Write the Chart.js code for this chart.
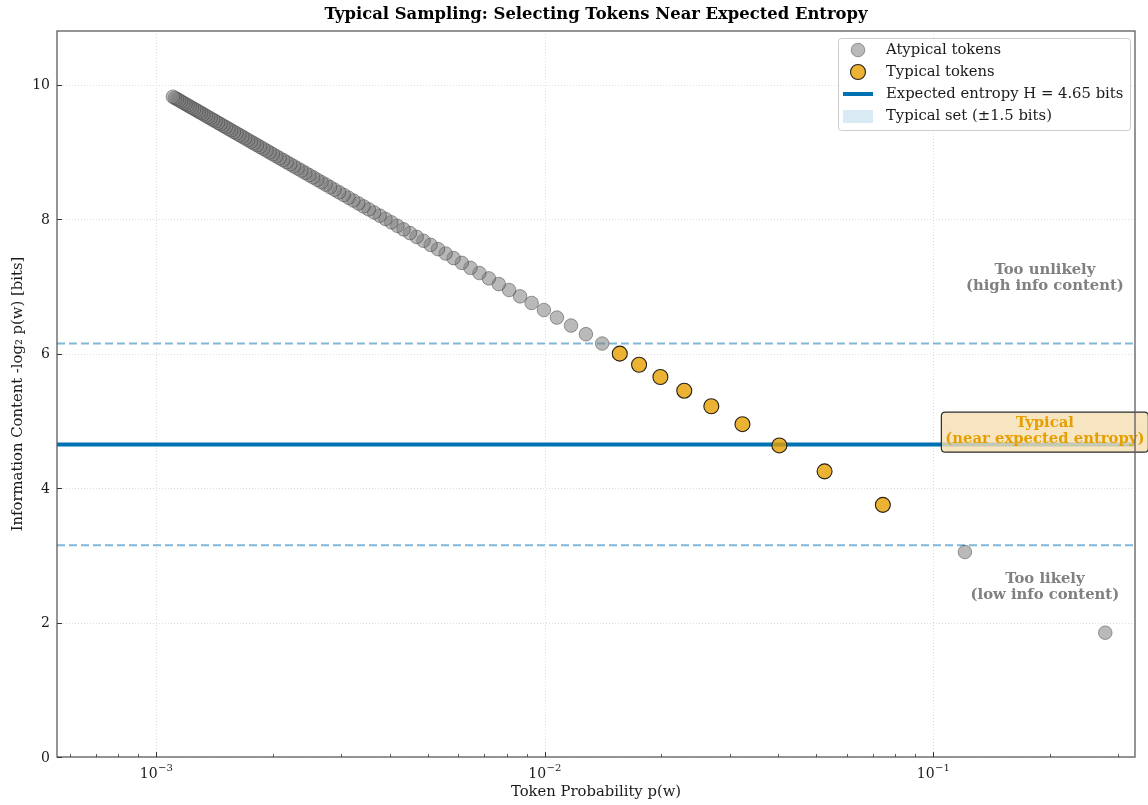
<!DOCTYPE html>
<html>
<head>
<meta charset="utf-8">
<script src="https://cdn.jsdelivr.net/npm/chart.js@4.4.0/dist/chart.umd.min.js"></script>
<style>
  html, body { margin: 0; padding: 0; background: #ffffff; }
  canvas { display: block; }
</style>
</head>
<body>
<canvas id="chart" width="1148" height="805"></canvas>
<script>
// Token probabilities (rank 1..100) and their information content in bits
const tokenProb = [
  0.2775, 0.1208, 0.07427, 0.05258, 0.04022, 0.03232, 0.02687, 0.02289, 0.01987, 0.01751,
  0.01562, 0.01407, 0.01278, 0.01170, 0.01076, 0.009963, 0.009263, 0.008650, 0.008106, 0.007624,
  0.007188, 0.006798, 0.006446, 0.006125, 0.005832, 0.005564, 0.005318, 0.005090, 0.004880, 0.004686,
  0.004504, 0.004337, 0.004179, 0.004032, 0.003895, 0.003766, 0.003643, 0.003528, 0.003420, 0.003318,
  0.003221, 0.003129, 0.003042, 0.002959, 0.002881, 0.002806, 0.002734, 0.002666, 0.002601, 0.002538,
  0.002479, 0.002422, 0.002367, 0.002314, 0.002264, 0.002216, 0.002169, 0.002124, 0.002081, 0.002040,
  0.001999, 0.001961, 0.001924, 0.001888, 0.001853, 0.001819, 0.001787, 0.001755, 0.001725, 0.001695,
  0.001667, 0.001639, 0.001612, 0.001586, 0.001560, 0.001536, 0.001512, 0.001489, 0.001466, 0.001444,
  0.001423, 0.001402, 0.001382, 0.001362, 0.001343, 0.001324, 0.001306, 0.001288, 0.001271, 0.001254,
  0.001237, 0.001221, 0.001205, 0.001190, 0.001175, 0.001160, 0.001146, 0.001132, 0.001118, 0.001105
];
const infoContent = [
  1.849, 3.049, 3.751, 4.249, 4.635, 4.951, 5.218, 5.449, 5.653, 5.835,
  6.000, 6.151, 6.290, 6.418, 6.537, 6.649, 6.754, 6.853, 6.947, 7.035,
  7.120, 7.200, 7.277, 7.351, 7.422, 7.490, 7.555, 7.618, 7.679, 7.737,
  7.794, 7.849, 7.902, 7.954, 8.004, 8.053, 8.100, 8.147, 8.191, 8.235,
  8.278, 8.320, 8.361, 8.400, 8.439, 8.477, 8.515, 8.551, 8.587, 8.622,
  8.656, 8.690, 8.723, 8.755, 8.787, 8.818, 8.849, 8.879, 8.908, 8.937,
  8.966, 8.994, 9.022, 9.049, 9.076, 9.102, 9.128, 9.154, 9.179, 9.204,
  9.229, 9.253, 9.277, 9.300, 9.324, 9.347, 9.369, 9.391, 9.414, 9.435,
  9.457, 9.478, 9.499, 9.520, 9.540, 9.561, 9.581, 9.600, 9.620, 9.639,
  9.658, 9.677, 9.696, 9.715, 9.733, 9.751, 9.769, 9.787, 9.804, 9.822
];

const ENTROPY = 4.65;      // expected entropy H in bits
const BAND = 1.5;          // half-width of the typical set in bits

const xLimits = [5.56e-4, 0.331];
const yLimits = [0, 10.8];
const yTicks = [0, 2, 4, 6, 8, 10];
const xDecades = [1e-3, 1e-2, 1e-1];
const xDecadeExponents = ['\u22123', '\u22122', '\u22121'];

const SERIF = '"DejaVu Serif", "Liberation Serif", serif';
const TEXT_PX = '14.8px ';

// Split tokens into the typical set and the rest
const typicalPts = [];
const atypicalPts = [];
tokenProb.forEach((p, i) => {
  const pt = { x: p, y: infoContent[i] };
  if (Math.abs(infoContent[i] - ENTROPY) < BAND) typicalPts.push(pt);
  else atypicalPts.push(pt);
});

const hLine = v => [{ x: xLimits[0], y: v }, { x: xLimits[1], y: v }];

const COLORS = {
  typicalFill: 'rgba(230,159,0,0.8)',
  typicalEdge: 'rgba(0,0,0,0.85)',
  atypFill: 'rgba(128,128,128,0.55)',
  atypEdge: 'rgba(45,45,45,0.55)',
  entropy: '#0072B2',
  bound: 'rgba(0,114,178,0.5)',
  bandPatch: 'rgba(0,114,178,0.15)'
};

function strokeLine(ctx, x1, y1, x2, y2) {
  ctx.beginPath(); ctx.moveTo(x1, y1); ctx.lineTo(x2, y2); ctx.stroke();
}

function roundRect(ctx, x, y, w, h, r) {
  ctx.beginPath();
  ctx.moveTo(x + r, y);
  ctx.lineTo(x + w - r, y); ctx.quadraticCurveTo(x + w, y, x + w, y + r);
  ctx.lineTo(x + w, y + h - r); ctx.quadraticCurveTo(x + w, y + h, x + w - r, y + h);
  ctx.lineTo(x + r, y + h); ctx.quadraticCurveTo(x, y + h, x, y + h - r);
  ctx.lineTo(x, y + r); ctx.quadraticCurveTo(x, y, x + r, y);
  ctx.closePath();
}

const decorations = {
  id: 'decorations',
  beforeDatasetsDraw(chart) {
    const { ctx, chartArea: a, scales: { x, y } } = chart;
    ctx.save();
    ctx.strokeStyle = '#d4d4d4';
    ctx.lineWidth = 0.8;
    ctx.setLineDash([1, 2]);
    yTicks.forEach(v => {
      const py = Math.round(y.getPixelForValue(v)) + 0.5;
      strokeLine(ctx, a.left, py, a.right, py);
    });
    xDecades.forEach(v => {
      const px = Math.round(x.getPixelForValue(v)) + 0.5;
      strokeLine(ctx, px, a.top, px, a.bottom);
    });
    ctx.restore();
  },
  afterDatasetsDraw(chart) {
    const { ctx, scales: { x, y } } = chart;
    ctx.save();
    // region annotations
    ctx.textAlign = 'center';
    ctx.textBaseline = 'middle';
    ctx.font = 'bold ' + TEXT_PX + SERIF;
    ctx.fillStyle = '#808080';
    const ax = x.getPixelForValue(0.194);
    let cy = y.getPixelForValue(7.13);
    ctx.fillText('Too unlikely', ax, cy - 8);
    ctx.fillText('(high info content)', ax, cy + 8);
    cy = y.getPixelForValue(2.53);
    ctx.fillText('Too likely', ax, cy - 8);
    ctx.fillText('(low info content)', ax, cy + 8);

    // typical label in a box
    cy = y.getPixelForValue(4.84);
    roundRect(ctx, ax - 103.5, cy - 19.5, 207, 40, 4);
    ctx.fillStyle = 'rgba(245,222,179,0.8)';
    ctx.fill();
    ctx.strokeStyle = '#2b2b2b';
    ctx.lineWidth = 1.2;
    ctx.stroke();
    ctx.fillStyle = '#E69F00';
    ctx.fillText('Typical', ax, cy - 8);
    ctx.fillText('(near expected entropy)', ax, cy + 8);
    ctx.restore();
  },
  afterDraw(chart) {
    const { ctx, chartArea: a, scales: { x, y } } = chart;
    ctx.save();

    // frame
    ctx.strokeStyle = '#5c5c5c';
    ctx.lineWidth = 1.3;
    ctx.strokeRect(a.left, a.top, a.right - a.left, a.bottom - a.top);

    // inward ticks
    ctx.strokeStyle = '#333';
    ctx.lineWidth = 1;
    yTicks.forEach(v => {
      const py = Math.round(y.getPixelForValue(v)) + 0.5;
      strokeLine(ctx, a.left, py, a.left + 5, py);
    });
    xDecades.forEach(v => {
      const px = Math.round(x.getPixelForValue(v)) + 0.5;
      strokeLine(ctx, px, a.bottom, px, a.bottom - 5);
    });
    ctx.lineWidth = 0.8;
    [1e-4, 1e-3, 1e-2, 1e-1].forEach(d => {
      for (let m = 2; m <= 9; m++) {
        const v = d * m;
        if (v < xLimits[0] || v > xLimits[1]) continue;
        const px = Math.round(x.getPixelForValue(v)) + 0.5;
        strokeLine(ctx, px, a.bottom, px, a.bottom - 3);
      }
    });

    // tick labels
    ctx.fillStyle = '#1a1a1a';
    ctx.font = '14px ' + SERIF;
    ctx.textAlign = 'right';
    ctx.textBaseline = 'middle';
    yTicks.forEach(v => ctx.fillText(String(v), a.left - 7, y.getPixelForValue(v) + 1));

    ctx.textBaseline = 'alphabetic';
    xDecades.forEach((v, i) => {
      const px = x.getPixelForValue(v);
      ctx.font = '14px ' + SERIF;
      const wBase = ctx.measureText('10').width;
      ctx.font = '10px ' + SERIF;
      const wExp = ctx.measureText(xDecadeExponents[i]).width;
      const left = px - (wBase + wExp) / 2;
      ctx.textAlign = 'left';
      ctx.font = '14px ' + SERIF;
      ctx.fillText('10', left, a.bottom + 21);
      ctx.font = '10px ' + SERIF;
      ctx.fillText(xDecadeExponents[i], left + wBase + 0.5, a.bottom + 14);
    });

    // axis titles
    ctx.font = TEXT_PX + SERIF;
    ctx.textAlign = 'center';
    ctx.textBaseline = 'middle';
    ctx.fillText('Token Probability p(w)', (a.left + a.right) / 2, a.bottom + 35);
    ctx.save();
    ctx.translate(18, (a.top + a.bottom) / 2);
    ctx.rotate(-Math.PI / 2);
    ctx.fillText('Information Content -log\u2082 p(w) [bits]', 0, 0);
    ctx.restore();

    // title
    ctx.font = 'bold 16.4px ' + SERIF;
    ctx.fillStyle = '#000';
    ctx.fillText('Typical Sampling: Selecting Tokens Near Expected Entropy', (a.left + a.right) / 2, 15);

    // legend
    const lx = 838, ly = 38, lw = 292, lh = 92;
    roundRect(ctx, lx + 0.5, ly + 0.5, lw, lh, 3);
    ctx.fillStyle = 'rgba(255,255,255,0.85)';
    ctx.fill();
    ctx.strokeStyle = '#cccccc';
    ctx.lineWidth = 1;
    ctx.stroke();

    const mx = 858, tx = 886;
    const rows = [50, 72, 94, 116];
    ctx.beginPath(); ctx.arc(mx, rows[0], 6.8, 0, Math.PI * 2);
    ctx.fillStyle = COLORS.atypFill; ctx.fill();
    ctx.strokeStyle = COLORS.atypEdge; ctx.lineWidth = 0.8; ctx.stroke();

    ctx.beginPath(); ctx.arc(mx, rows[1], 7.5, 0, Math.PI * 2);
    ctx.fillStyle = COLORS.typicalFill; ctx.fill();
    ctx.strokeStyle = COLORS.typicalEdge; ctx.lineWidth = 1.1; ctx.stroke();

    ctx.strokeStyle = COLORS.entropy; ctx.lineWidth = 4;
    strokeLine(ctx, 843, rows[2], 873, rows[2]);

    ctx.fillStyle = COLORS.bandPatch;
    ctx.fillRect(843, rows[3] - 6, 30, 13);

    ctx.fillStyle = '#1a1a1a';
    ctx.font = TEXT_PX + SERIF;
    ctx.textAlign = 'left';
    ctx.textBaseline = 'middle';
    ctx.fillText('Atypical tokens', tx, rows[0]);
    ctx.fillText('Typical tokens', tx, rows[1]);
    ctx.fillText('Expected entropy H = 4.65 bits', tx, rows[2]);
    ctx.fillText('Typical set (\u00b11.5 bits)', tx, rows[3]);

    ctx.restore();
  }
};

new Chart(document.getElementById('chart'), {
  type: 'scatter',
  data: {
    datasets: [
      {
        label: 'Typical tokens',
        data: typicalPts,
        backgroundColor: COLORS.typicalFill,
        borderColor: COLORS.typicalEdge,
        borderWidth: 1.1,
        pointRadius: 7.5
      },
      {
        label: 'Atypical tokens',
        data: atypicalPts,
        backgroundColor: COLORS.atypFill,
        borderColor: COLORS.atypEdge,
        borderWidth: 0.8,
        pointRadius: 6.8
      },
      {
        type: 'line',
        label: 'Expected entropy H = 4.65 bits',
        data: hLine(ENTROPY),
        borderColor: COLORS.entropy,
        borderWidth: 4,
        pointRadius: 0
      },
      {
        type: 'line',
        label: 'upper bound',
        data: hLine(ENTROPY + BAND),
        borderColor: COLORS.bound,
        borderWidth: 2,
        borderDash: [8, 4],
        pointRadius: 0
      },
      {
        type: 'line',
        label: 'lower bound',
        data: hLine(ENTROPY - BAND),
        borderColor: COLORS.bound,
        borderWidth: 2,
        borderDash: [8, 4],
        pointRadius: 0
      }
    ]
  },
  options: {
    responsive: false,
    animation: false,
    events: [],
    layout: { padding: { top: 31, right: 13, left: 0, bottom: 0 } },
    plugins: {
      legend: { display: false },
      tooltip: { enabled: false },
      title: { display: false }
    },
    scales: {
      x: {
        type: 'logarithmic',
        min: xLimits[0],
        max: xLimits[1],
        grid: { display: false },
        border: { display: false },
        ticks: { display: false },
        afterFit: s => { s.height = 48; }
      },
      y: {
        type: 'linear',
        min: yLimits[0],
        max: yLimits[1],
        grid: { display: false },
        border: { display: false },
        ticks: { display: false, stepSize: 2, includeBounds: false },
        afterFit: s => { s.width = 57; }
      }
    }
  },
  plugins: [decorations]
});
</script>
</body>
</html>
